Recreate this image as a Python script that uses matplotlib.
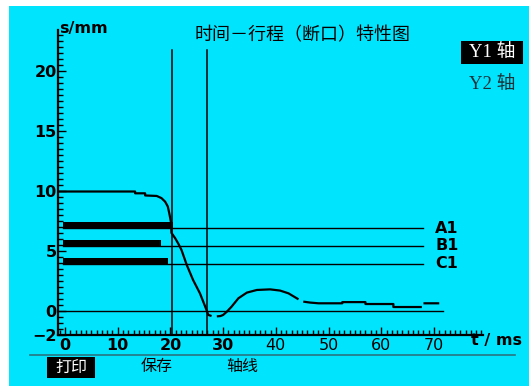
import numpy as np
import matplotlib
matplotlib.use("Agg")
import matplotlib.pyplot as plt
from matplotlib.patches import Rectangle
from matplotlib.ticker import MultipleLocator

plt.rcParams["font.family"] = ["DejaVu Sans", "Noto Sans CJK SC"]
CJK = ["Noto Sans CJK SC", "DejaVu Sans"]

# ── data ──────────────────────────────────────────────────────────
nan = np.nan
t_ms = [-1.3, 13.3, 13.3, 15.2, 15.2, 17.4, 18.3, 19.0, 19.5, 19.8, 20.1,
        20.2, 20.9, 21.5, 22.1, 23.1, 24.3, 25.6, 26.6, 27.2, 27.8, nan,
        28.8, 29.5, 30.0, 30.7, 31.6, 32.9, 34.5, 36.4, 38.9, 40.8, 42.4,
        44.3, nan, 45.2, 46.5, 48.1, 52.6, 52.6, 57.0, 57.0, 62.3, 62.3,
        67.7, nan, 68.0, 71.0]
s_mm = [9.95, 9.95, 9.8, 9.8, 9.62, 9.58, 9.4, 9.1, 8.7, 8.1, 7.4,
        6.5, 6.06, 5.6, 5.08, 3.83, 2.58, 1.47, 0.36, -0.33, -0.42, nan,
        -0.45, -0.42, -0.33, -0.06, 0.36, 1.06, 1.53, 1.75, 1.8, 1.7, 1.47,
        0.97, nan, 0.78, 0.7, 0.64, 0.64, 0.74, 0.74, 0.58, 0.58, 0.33,
        0.33, nan, 0.64, 0.64]

markers = [20.3, 26.9]                 # vertical cursor lines (ms)
level_names = ["A1", "B1", "C1"]
level_vals = [6.9, 5.42, 3.95]
bar_start = -0.4
bar_end = [20.4, 18.2, 19.6]
level_line_end = 67.9
zero_line_end = 71.7

xticks = [0, 10, 20, 30, 40, 50, 60, 70]
yticks = [-2, 0, 5, 10, 15, 20]

W, H = 529, 386
fig = plt.figure(figsize=(W / 100, H / 100), dpi=100, facecolor="white")

def fx(px):
    return px / W

def fy(py):
    return 1 - py / H

# cyan screen background
fig.patches.append(Rectangle((fx(9), 0), 1 - fx(9), fy(6), transform=fig.transFigure,
                             facecolor="#00e5fd", edgecolor="none", zorder=-10))

ax = fig.add_axes([fx(58), fy(335), fx(483 - 58), (335 - 30) / H])
ax.set_facecolor("none")
ax.set_xlim(-1.33, 79.3)
ax.set_ylim(-2, 23.4)
for sp in ["top", "right"]:
    ax.spines[sp].set_visible(False)
for sp in ["left", "bottom"]:
    ax.spines[sp].set_linewidth(1.6)

ax.set_xticks(xticks)
ax.set_yticks(yticks)
ax.xaxis.set_minor_locator(MultipleLocator(1))
ax.yaxis.set_minor_locator(MultipleLocator(0.5))
ax.tick_params(which="both", direction="in", width=1.0)
ax.tick_params(which="major", length=6)
ax.tick_params(which="minor", length=3.5)
ax.tick_params(axis="y", pad=1)
ax.tick_params(axis="x", pad=2)
ax.set_yticklabels([str(v).replace("-", "\u2212") for v in yticks],
                   fontsize=11.5, fontweight="bold")
ax.set_xticklabels([str(v) for v in xticks], fontsize=11.5)
for lbl, v in zip(ax.get_xticklabels(), xticks):
    lbl.set_fontweight("bold" if v <= 30 else "normal")

# level bars and lines
for name, val, end in zip(level_names, level_vals, bar_end):
    ax.barh(val + 0.25, end - bar_start, left=bar_start, height=0.5,
            color="black", zorder=3)
    ax.plot([bar_start, level_line_end], [val, val], color="black", lw=1.0, zorder=2)
    ax.text(70.2, val, name, fontsize=11.5, fontweight="bold", ha="left", va="center")

ax.plot([-1.33, zero_line_end], [0, 0], color="black", lw=1.0, zorder=2)
for m in markers:
    ax.plot([m, m], [-2, 21.7], color="black", lw=1.1, zorder=2)

ax.plot(t_ms, s_mm, color="black", lw=1.6, zorder=4, solid_capstyle="butt")

# axis labels
fig.text(fx(59), fy(28), "s/mm", fontsize=11.5, fontweight="bold", ha="left", va="center")
fig.text(fx(471), fy(341), "t / ms", fontsize=11.5, fontweight="bold", ha="left", va="center")

# title
fig.text(fx(303), fy(35), "时间－行程（断口）特性图", fontsize=13, family=CJK,
         ha="center", va="center")

# Y1 / Y2 axis selector
fig.patches.append(Rectangle((fx(461), fy(64.3)), fx(62.3), (64.3 - 41) / H,
                             transform=fig.transFigure, facecolor="black", edgecolor="none"))
serif = ["Liberation Serif", "Noto Sans CJK SC"]
fig.text(fx(492), fy(52.5), "Y1 轴", fontsize=13.5, family=serif, color="white",
         ha="center", va="center")
fig.text(fx(492), fy(85), "Y2 轴", fontsize=13.5, family=serif, color="#18323a",
         ha="center", va="center")

# bottom menu
fig.lines.append(plt.Line2D([fx(30), fx(515)], [fy(355), fy(355)], transform=fig.transFigure,
                            color="#2a7480", lw=1.2))
fig.patches.append(Rectangle((fx(46.7), fy(377.7)), fx(48.3), 21 / H,
                             transform=fig.transFigure, facecolor="black", edgecolor="none"))
fig.text(fx(71), fy(367), "打印", fontsize=11.5, family=CJK, color="white",
         ha="center", va="center")
fig.text(fx(157), fy(367), "保存", fontsize=11.5, family=CJK, ha="center", va="center")
fig.text(fx(242), fy(367), "轴线", fontsize=11.5, family=CJK, ha="center", va="center")

fig.savefig("out.png", dpi=100, facecolor=fig.get_facecolor())
